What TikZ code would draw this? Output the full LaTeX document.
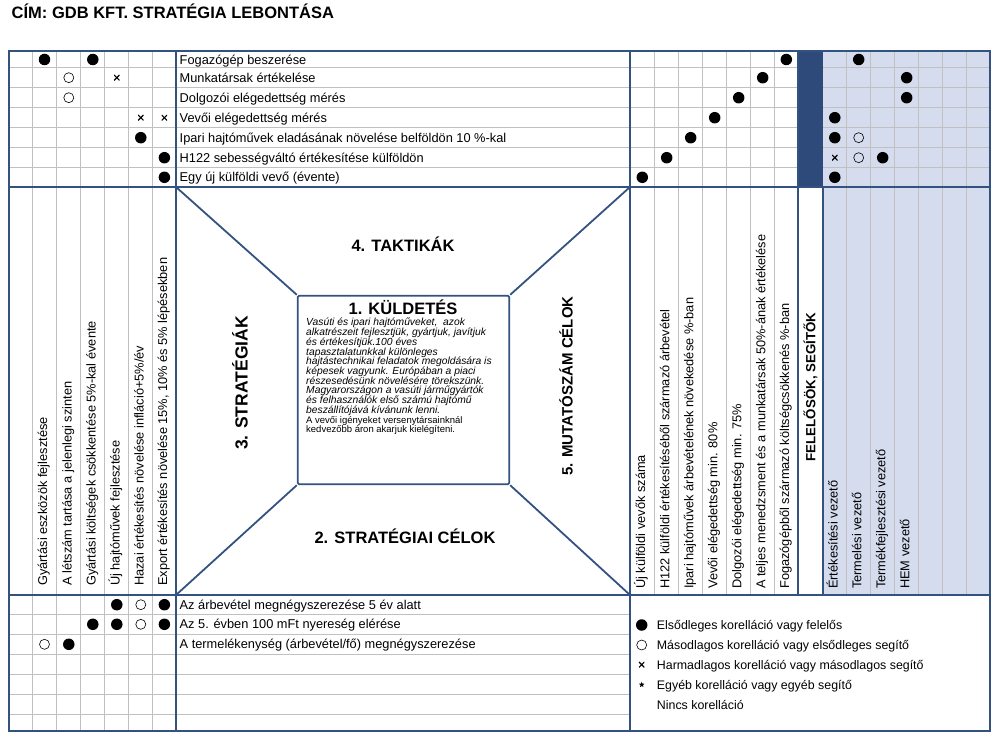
\documentclass[tikz,border=0pt]{standalone}
\usepackage{fontspec}
\setmainfont{Liberation Sans}[ItalicFont={Liberation Sans Italic}, BoldFont={Liberation Sans Bold}, BoldItalicFont={Liberation Sans Bold Italic}]
\usetikzlibrary{shapes.geometric}
\definecolor{bord}{RGB}{52,82,128}
\definecolor{darkfill}{RGB}{46,74,122}
\definecolor{lightfill}{RGB}{212,220,238}
\definecolor{gridgray}{RGB}{192,192,192}
\begin{document}
\begin{tikzpicture}[x=1pt,y=-1pt,
  bordline/.style={draw=bord, line width=2.6pt},
  gridline/.style={draw=gridgray, line width=0.8pt},
  diagline/.style={draw=bord, line width=1.8pt},
  txt/.style={anchor=base west, inner sep=0, font=\fontsize{12.8}{14}\selectfont},
  legtxt/.style={anchor=base west, inner sep=0, font=\fontsize{12.4}{14}\selectfont},
  vtxt/.style={anchor=base west, inner sep=0, rotate=90, font=\fontsize{12.8}{14}\selectfont},
  head/.style={inner sep=0, font=\fontsize{16.5}{18}\selectfont\bfseries},
  mline/.style={anchor=base west, inner sep=0, font=\fontsize{10.3}{11}\selectfont\itshape},
  mlineup/.style={anchor=base west, inner sep=0, font=\fontsize{9.5}{11}\selectfont},
  full/.style={circle, fill=black, inner sep=0, minimum size=11.5pt},
  empty/.style={circle, draw=black, line width=0.6pt, inner sep=0, minimum size=10pt},
  xm/.style={inner sep=0, minimum size=5.5pt, path picture={
    \draw[line width=1.1pt] (path picture bounding box.south west) -- (path picture bounding box.north east)
      (path picture bounding box.north west) -- (path picture bounding box.south east);}},
  smallstar/.style={star, star points=5, star point ratio=2.4, fill=black, inner sep=0, minimum size=6pt},
]
\useasboundingbox (0,0) rectangle (997,738);

% title
\node[anchor=base west, inner sep=0, font=\fontsize{16.5}{18}\selectfont\bfseries] (title) at (11.5,18.8) {CÍM: GDB KFT. STRATÉGIA LEBONTÁSA};

% fills
\fill[lightfill] (823,51) rectangle (990,595);
\fill[darkfill] (798,51) rectangle (823,187);

% grid lines, top band horizontals
\foreach \y in {67.7,87.7,107.7,127.7,147.7,167.7} {
  \draw[gridline] (9,\y) -- (798,\y);
  \draw[gridline] (823,\y) -- (990,\y);
}
% bottom band horizontals
\foreach \y in {614.3,634.3,654.3,674.3,694.3,714.3} {
  \draw[gridline] (9,\y) -- (630,\y);
}
% verticals
\foreach \x in {32.3,56.8,80.8,104.8,128.8,152.8} {
  \draw[gridline] (\x,51) -- (\x,731);
}
\foreach \x in {654.7,678.7,702.7,726.7,750.7,774.7,846.7,870.7,894.7,918.7,942.7,966.7} {
  \draw[gridline] (\x,51) -- (\x,595);
}

% central figure
\coordinate (mtl) at (176,187);
\coordinate (mtr) at (630,187);
\coordinate (mbl) at (176,595);
\coordinate (mbr) at (630,595);
\node[draw=bord, line width=1.8pt, fill=white, rounded corners=1.5pt, minimum width=211.6pt, minimum height=188.6pt, inner sep=0] (mission) at (403.5,390) {};
\draw[diagline] (mtl) -- (mission.north west);
\draw[diagline] (mtr) -- (mission.north east);
\draw[diagline] (mbl) -- (mission.south west);
\draw[diagline] (mbr) -- (mission.south east);

% thick borders
\draw[bordline] (9,51) rectangle (990,731);
\draw[bordline] (9,187) -- (990,187);
\draw[bordline] (9,595) -- (990,595);
\draw[bordline] (176,51) -- (176,731);
\draw[bordline] (630,51) -- (630,731);
\draw[bordline] (798,51) -- (798,595);
\draw[bordline] (823,187) -- (823,595);

% headings
\node[head] (takt) at (403,244) {4. TAKTIKÁK};
\node[head] (celok) at (405,536) {2. STRATÉGIAI CÉLOK};
\node[inner sep=0, rotate=90, font=\fontsize{17.5}{19}\selectfont\bfseries] (strat) at (240,383) {3. STRATÉGIÁK};
\node[inner sep=0, rotate=90, font=\fontsize{15}{17}\selectfont\bfseries] (mutat) at (566,386) {5. MUTATÓSZÁM CÉLOK};
\node[head] (kuld) at (403,307.3) {1. KÜLDETÉS};

% mission text
\node[mline] (ml1) at (306,326) {Vasúti és ipari hajtóműveket,\ \ azok};
\node[mline] (ml2) at (306,335.7) {alkatrészeit fejlesztjük, gyártjuk, javítjuk};
\node[mline] (ml3) at (306,345.4) {és értékesítjük.100 éves};
\node[mline] (ml4) at (306,355.1) {tapasztalatunkkal különleges};
\node[mline] (ml5) at (306,364.8) {hajtástechnikai feladatok megoldására is};
\node[mline] (ml6) at (306,374.5) {képesek vagyunk. Európában a piaci};
\node[mline] (ml7) at (306,384.2) {részesedésünk növelésére törekszünk.};
\node[mline] (ml8) at (306,393.9) {Magyarországon a vasúti járműgyártók};
\node[mline] (ml9) at (306,403.6) {és felhasználók első számú hajtómű};
\node[mline] (ml10) at (306,413.3) {beszállítójává kívánunk lenni.};
\node[mlineup] (ml11) at (306,423) {A vevői igényeket versenytársainknál};
\node[mlineup] (ml12) at (306,432.7) {kedvezőbb áron akarjuk kielégíteni.};

% top band texts
\node[txt] (r1) at (179.5,64.1) {Fogazógép beszerése};
\node[txt] (r2) at (179.5,82.3) {Munkatársak értékelése};
\node[txt] (r3) at (179.5,102.3) {Dolgozói elégedettség mérés};
\node[txt] (r4) at (179.5,122.3) {Vevői elégedettség mérés};
\node[txt] (r5) at (179.5,142.3) {Ipari hajtóművek eladásának növelése belföldön 10 \%-kal};
\node[txt] (r6) at (179.5,162.3) {H122 sebességváltó értékesítése külföldön};
\node[txt] (r7) at (179.5,181.9) {Egy új külföldi vevő (évente)};

% bottom band texts
\node[txt] (b1) at (179.5,609.3) {Az árbevétel megnégyszerezése 5 év alatt};
\node[txt] (b2) at (179.5,628.9) {Az 5. évben 100 mFt nyereség elérése};
\node[txt] (b3) at (179.5,648.9) {A termelékenység (árbevétel/fő) megnégyszerezése};

% left vertical texts (strategies)
\node[vtxt] (s1) at (47.2,586) {Gyártási eszközök fejlesztése};
\node[vtxt] (s2) at (71.5,586) {A létszám tartása a jelenlegi szinten};
\node[vtxt] (s3) at (95.5,586) {Gyártási költségek csökkentése 5\%-kal évente};
\node[vtxt] (s4) at (119.5,586) {Új hajtóművek fejlesztése};
\node[vtxt] (s5) at (143.5,586) {Hazai értékesítés növelése infláció+5\%/év};
\node[vtxt] (s6) at (167.1,586) {Export értékesítés növelése 15\%, 10\% és 5\% lépésekben};

% right vertical texts (KPIs)
\node[vtxt] (k1) at (645,589) {Új külföldi vevők száma};
\node[vtxt] (k2) at (669.4,589) {H122 külföldi értékesítéséből származó árbevétel};
\node[vtxt] (k3) at (693.4,589) {Ipari hajtóművek árbevételének növekedése \%-ban};
\node[vtxt] (k4) at (717.4,589) {Vevői elégedettség min. 80\%};
\node[vtxt] (k5) at (741.4,589) {Dolgozói elégedettség min. 75\%};
\node[vtxt] (k6) at (765.4,589) {A teljes menedzsment és a munkatársak 50\%-ának értékelése};
\node[vtxt] (k7) at (789,589) {Fogazógépből származó költségcsökkenés \%-ban};
\node[inner sep=0, rotate=90, font=\fontsize{13.3}{15}\selectfont\bfseries] (felel) at (810.5,387) {FELELŐSÖK, SEGÍTŐK};
\node[vtxt] (p1) at (837.5,589) {Értékesítési vezető};
\node[vtxt] (p2) at (861.4,589) {Termelési vezető};
\node[vtxt] (p3) at (885.4,589) {Termékfejlesztési vezető};
\node[vtxt] (p4) at (909.4,589) {HEM vezető};

% top-left marks
\node[full] (a1) at (44.5,59.5) {};
\node[full] (a2) at (92.8,59.5) {};
\node[empty] (a3) at (68.8,77.7) {};
\node[xm] (a4) at (116.8,77.7) {};
\node[empty] (a5) at (68.8,97.7) {};
\node[xm] (a6) at (140.8,117.7) {};
\node[xm] (a7) at (164.4,117.7) {};
\node[full] (a8) at (140.8,137.7) {};
\node[full] (a9) at (164.4,157.7) {};
\node[full] (a10) at (164.4,177.3) {};

% top-right diagonal marks
\node[full] (d1) at (786.3,59.5) {};
\node[full] (d2) at (762.7,77.7) {};
\node[full] (d3) at (738.7,97.7) {};
\node[full] (d4) at (714.7,117.7) {};
\node[full] (d5) at (690.7,137.7) {};
\node[full] (d6) at (666.7,157.7) {};
\node[full] (d7) at (642.3,177.3) {};

% responsibles marks
\node[full] (e1) at (858.7,59.5) {};
\node[full] (e2) at (906.7,77.7) {};
\node[full] (e3) at (906.7,97.7) {};
\node[full] (e4) at (834.8,117.7) {};
\node[full] (e5) at (834.8,137.7) {};
\node[empty] (e6) at (858.7,137.7) {};
\node[xm] (e7) at (834.8,157.7) {};
\node[empty] (e8) at (858.7,157.7) {};
\node[full] (e9) at (882.7,157.7) {};
\node[full] (e10) at (834.8,177.3) {};

% bottom marks
\node[full] (f1) at (116.8,604.7) {};
\node[empty] (f2) at (140.8,604.7) {};
\node[full] (f3) at (164.4,604.7) {};
\node[full] (f4) at (92.8,624.3) {};
\node[full] (f5) at (116.8,624.3) {};
\node[empty] (f6) at (140.8,624.3) {};
\node[full] (f7) at (164.4,624.3) {};
\node[empty] (f8) at (44.5,644.3) {};
\node[full] (f9) at (68.8,644.3) {};

% legend
\node[full] (lg1) at (641.7,625) {};
\node[empty] (lg2) at (641.7,645) {};
\node[xm] (lg3) at (641.7,664.7) {};
\node[smallstar] (lg4) at (641.7,684.7) {};
\node[legtxt] (lt1) at (656.7,629.6) {Elsődleges korelláció vagy felelős};
\node[legtxt] (lt2) at (656.7,649.6) {Másodlagos korelláció vagy elsődleges segítő};
\node[legtxt] (lt3) at (656.7,669.3) {Harmadlagos korelláció vagy másodlagos segítő};
\node[legtxt] (lt4) at (656.7,689.3) {Egyéb korelláció vagy egyéb segítő};
\node[legtxt] (lt5) at (656.7,709) {Nincs korelláció};
\end{tikzpicture}
\end{document}
